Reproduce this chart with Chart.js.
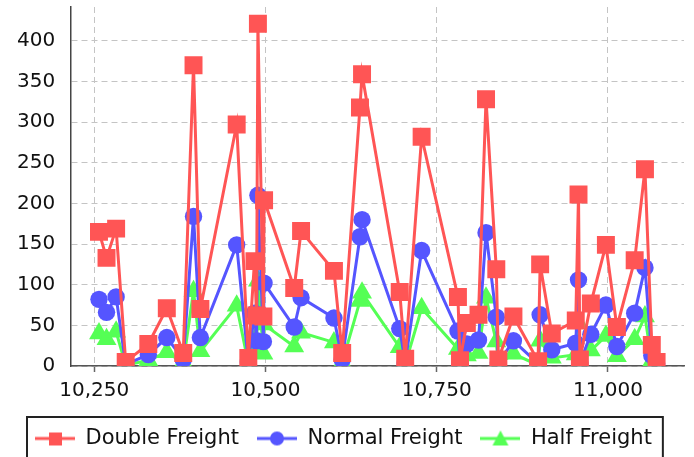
<!DOCTYPE html>
<html>
<head>
<meta charset="utf-8">
<script src="https://cdn.jsdelivr.net/npm/chart.js@4.4.1/dist/chart.umd.min.js"></script>
<style>
  html, body { margin: 0; padding: 0; background: #fff; overflow: hidden; }
</style>
</head>
<body>
<canvas id="freightChart" width="694" height="459"></canvas>
<script>
// x positions shared by all three series
const distances = [10257, 10268, 10282, 10296, 10329, 10356, 10380, 10395, 10405, 10458,
  10475, 10484, 10487, 10489, 10497, 10498, 10542, 10552, 10600, 10612,
  10638, 10641, 10696, 10704, 10728, 10781, 10784, 10794, 10811, 10822,
  10837, 10840, 10862, 10898, 10901, 10918, 10953, 10957, 10959, 10975,
  10997, 11013, 11039, 11054, 11064, 11071];
const doubleFreight = [165, 133, 169, 5, 27, 71, 16, 370, 70, 297,
  10, 129, 62, 421, 61, 204, 96, 166, 117, 16,
  318, 359, 91, 9, 282, 85, 7, 53, 63, 328,
  119, 8, 61, 6, 125, 40, 56, 211, 8, 77,
  149, 48, 130, 242, 26, 5];
const normalFreight = [82, 66, 85, 2, 14, 35, 8, 184, 35, 149,
  5, 65, 31, 210, 30, 102, 48, 84, 59, 8,
  159, 180, 46, 4, 142, 43, 3, 27, 32, 164,
  60, 4, 31, 3, 63, 20, 28, 106, 4, 39,
  75, 24, 65, 121, 13, 3];
const halfFreight = [40, 33, 42, 1, 7, 17, 4, 92, 18, 74,
  3, 32, 16, 105, 15, 51, 24, 41, 29, 4,
  80, 90, 23, 2, 71, 21, 2, 13, 16, 84,
  30, 2, 15, 1, 31, 10, 14, 53, 2, 19,
  37, 12, 33, 61, 6, 1];
const seriesNames = ["Double Freight", "Normal Freight", "Half Freight"];
const xTicks = [10250, 10500, 10750, 11000];
const yTicks = [0, 50, 100, 150, 200, 250, 300, 350, 400];

const RED = "#ff5555", BLUE = "#5555ff", GREEN = "#55ff55";
const FONT = "'DejaVu Sans', Verdana, sans-serif";

function pts(values){
  return values.map((v, i) => ({x: distances[i], y: v}));
}

// small line+marker pictures for the legend
function legendIcon(color, shape){
  const c = document.createElement("canvas");
  c.width = 40; c.height = 18;
  const g = c.getContext("2d");
  g.strokeStyle = color; g.fillStyle = color; g.lineWidth = 3;
  g.beginPath(); g.moveTo(0, 9); g.lineTo(40, 9); g.stroke();
  g.beginPath();
  if (shape === "rect") g.rect(14, 3, 13, 13);
  else if (shape === "circle") g.arc(20, 9, 7, 0, Math.PI * 2);
  else { g.moveTo(20, 1); g.lineTo(28, 16); g.lineTo(12, 16); g.closePath(); }
  g.fill();
  return c;
}
const icons = [legendIcon(RED, "rect"), legendIcon(BLUE, "circle"), legendIcon(GREEN, "tri")];

const legendFrame = {
  id: "legendFrame",
  afterDraw(chart){
    const lg = chart.legend;
    const boxes = lg.legendHitBoxes;
    if (!boxes || !boxes.length) return;
    const first = boxes[0], last = boxes[boxes.length - 1];
    const ctx = chart.ctx;
    ctx.save();
    ctx.strokeStyle = "#222";
    ctx.lineWidth = 2;
    const l = first.left - 8, r = last.left + last.width + 11;
    ctx.strokeRect(l, lg.top + 7, r - l, lg.bottom - lg.top);
    ctx.restore();
  }
};

function ds(label, values, color, style, radius){
  return {
    label: label,
    data: pts(values),
    borderColor: color,
    backgroundColor: color,
    borderWidth: 3,
    pointStyle: style,
    pointRadius: radius,
    pointBorderWidth: 0,
    pointBackgroundColor: color,
    tension: 0
  };
}

new Chart("freightChart", {
  type: "line",
  data: {
    datasets: [
      ds(seriesNames[0], doubleFreight, RED, "rect", 12.7),
      ds(seriesNames[1], normalFreight, BLUE, "circle", 8.7),
      ds(seriesNames[2], halfFreight, GREEN, "triangle", 11.5)
    ]
  },
  options: {
    responsive: false,
    animation: false,
    layout: { autoPadding: false, padding: { left: 17, top: 7, right: 10, bottom: 0 } },
    scales: {
      x: {
        type: "linear",
        min: 10216.4,
        max: 11111,
        afterBuildTicks: (s) => { s.ticks = xTicks.map(v => ({value: v})); },
        afterFit: (s) => { s.paddingLeft = 0; s.paddingRight = 0; },
        ticks: {
          font: { family: FONT, size: 20 },
          color: "#111",
          padding: 7,
          maxRotation: 0,
          callback: (v) => v.toLocaleString("en-US")
        },
        grid: {
          color: "#c4c4c4",
          lineWidth: 1,
          drawTicks: true,
          tickLength: 6,
          tickColor: "#666",
          tickBorderDash: [],
          tickWidth: 1.5
        },
        border: { display: true, color: "#555", width: 1.5, dash: [6, 4] }
      },
      y: {
        type: "linear",
        min: 0,
        max: 441.6,
        afterBuildTicks: (s) => { s.ticks = yTicks.map(v => ({value: v})); },
        afterFit: (s) => { s.paddingTop = 0; s.paddingBottom = 0; s.width -= 16; },
        ticks: {
          font: { family: FONT, size: 20 },
          color: "#111",
          padding: 16
        },
        grid: {
          color: "#c4c4c4",
          lineWidth: 1,
          drawTicks: false
        },
        border: { display: true, color: "#444", width: 1.5, dash: [6, 4] }
      }
    },
    plugins: {
      tooltip: { enabled: false },
      legend: {
        position: "bottom",
        align: "start",
        labels: {
          usePointStyle: true,
          pointStyleWidth: 40,
          padding: 18,
          color: "#111",
          font: { family: FONT, size: 21 },
          generateLabels: (chart) => {
            const items = Chart.defaults.plugins.legend.labels.generateLabels(chart);
            items.forEach((it, i) => { it.pointStyle = icons[i]; });
            return items;
          }
        }
      }
    }
  },
  plugins: [legendFrame]
});
</script>
</body>
</html>
